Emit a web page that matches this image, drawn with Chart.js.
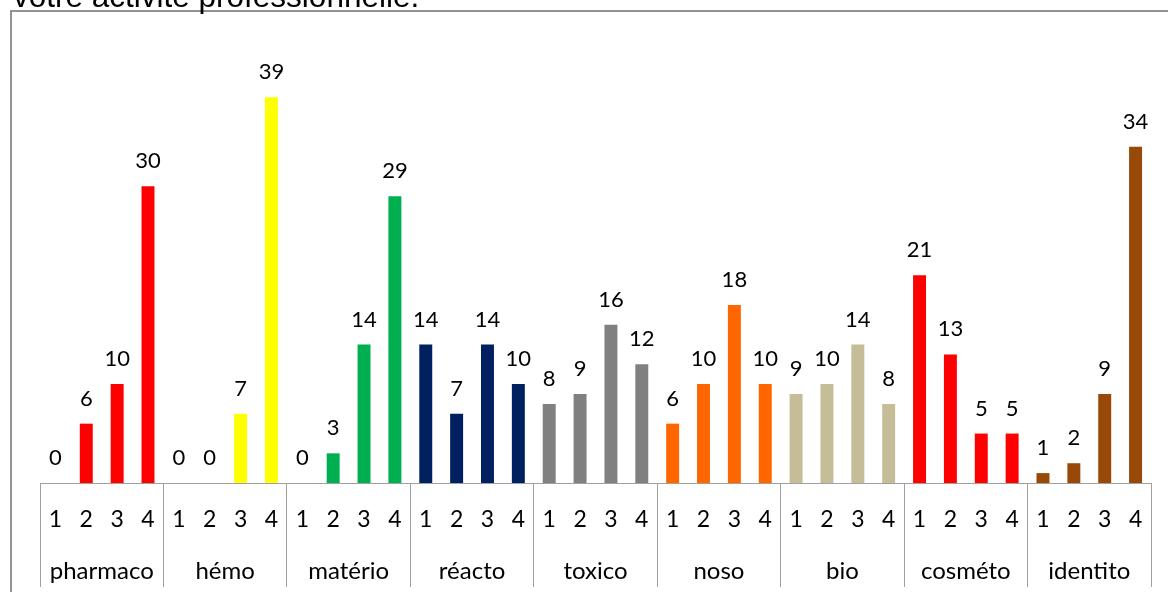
<!DOCTYPE html>
<html>
<head>
<meta charset="utf-8">
<script src="https://cdn.jsdelivr.net/npm/chart.js@4/dist/chart.umd.min.js"></script>
<style>
  html, body { margin: 0; padding: 0; background: #fff; overflow: hidden; }
  #wrap { position: relative; width: 1168px; height: 592px; }
  #frame {
    position: absolute; left: 10px; top: 10px; width: 1300px; height: 700px;
    border: 2px solid #939393; box-sizing: border-box;
  }
  #title {
    position: absolute; left: 13px; top: -19px; z-index: 2; line-height: 1;
    font-family: "Liberation Sans", Arial, sans-serif; font-size: 31.5px; color: #000; white-space: nowrap;
  }
  #chart { position: absolute; left: 0; top: 0; }
</style>
</head>
<body>
<div id="wrap">
  <div id="frame"></div>
  <div id="title">votre activité professionnelle.</div>
  <canvas id="chart" width="1168" height="592"></canvas>
</div>
<script>
const groups = ["pharmaco", "hémo", "matério", "réacto", "toxico", "noso", "bio", "cosméto", "identito"];
const levels = ["1", "2", "3", "4"];

const pharmaco = [0, 6, 10, 30];
const hemo = [0, 0, 7, 39];
const materio = [0, 3, 14, 29];
const reacto = [14, 7, 14, 10];
const toxico = [8, 9, 16, 12];
const noso = [6, 10, 18, 10];
const bio = [9, 10, 14, 8];
const cosmeto = [21, 13, 5, 5];
const identito = [1, 2, 9, 34];

const groupColors = ["#FF0000", "#FFFF00", "#00B050", "#002060", "#808080", "#FF6600", "#C4BD97", "#FF0000", "#984807"];

const series = [pharmaco, hemo, materio, reacto, toxico, noso, bio, cosmeto, identito];
const labels = groups.flatMap(() => levels);
const values = series.flat();
const colors = series.flatMap((s, g) => s.map(() => groupColors[g]));

const font = '"Lato", "Noto Sans", sans-serif';
const lineGray = "#a0a0a0";

// writes each value above its bar
const valueLabels = {
  id: "valueLabels",
  afterDatasetsDraw(chart) {
    const ctx = chart.ctx;
    const meta = chart.getDatasetMeta(0);
    ctx.save();
    ctx.font = "22px " + font;
    ctx.fillStyle = "#000";
    ctx.textAlign = "center";
    ctx.textBaseline = "alphabetic";
    meta.data.forEach((bar, i) => {
      ctx.fillText(String(values[i]), bar.x, bar.y - 18);
    });
    ctx.restore();
  }
};

new Chart(document.getElementById("chart"), {
  type: "bar",
  data: {
    labels: labels,
    datasets: [{
      data: values,
      backgroundColor: colors,
      borderWidth: 0,
      barPercentage: 0.42,
      categoryPercentage: 1
    }]
  },
  options: {
    responsive: false,
    animation: false,
    layout: { padding: { top: 38, left: 40, right: 17, bottom: 101 } },
    plugins: { legend: { display: false }, tooltip: { enabled: false } },
    scales: {
      y: { display: false, min: 0, max: 45 },
      // level numbers; its tick marks are the long group separators
      x: {
        weight: 0,
        offset: true,
        border: { display: true, color: lineGray, width: 1 },
        grid: {
          offset: true,
          drawOnChartArea: false,
          tickLength: 104,
          lineWidth: 1,
          color: (c) => (c.index === undefined || c.index % 4 === 0) ? lineGray : "rgba(0,0,0,0)"
        },
        ticks: { mirror: true, padding: -50, color: "#000", font: { family: font, size: 23 }, autoSkip: false, maxRotation: 0 }
      },
      // group names
      x2: {
        type: "category",
        labels: groups,
        weight: 1,
        position: "bottom",
        offset: true,
        border: { display: false },
        grid: {
          offset: true,
          drawOnChartArea: false,
          tickLength: 202,
          color: "rgba(0,0,0,0)"
        },
        ticks: { mirror: true, padding: -99, color: "#000", font: { family: font, size: 24 }, autoSkip: false, maxRotation: 0 }
      }
    }
  },
  plugins: [valueLabels]
});
</script>
</body>
</html>
